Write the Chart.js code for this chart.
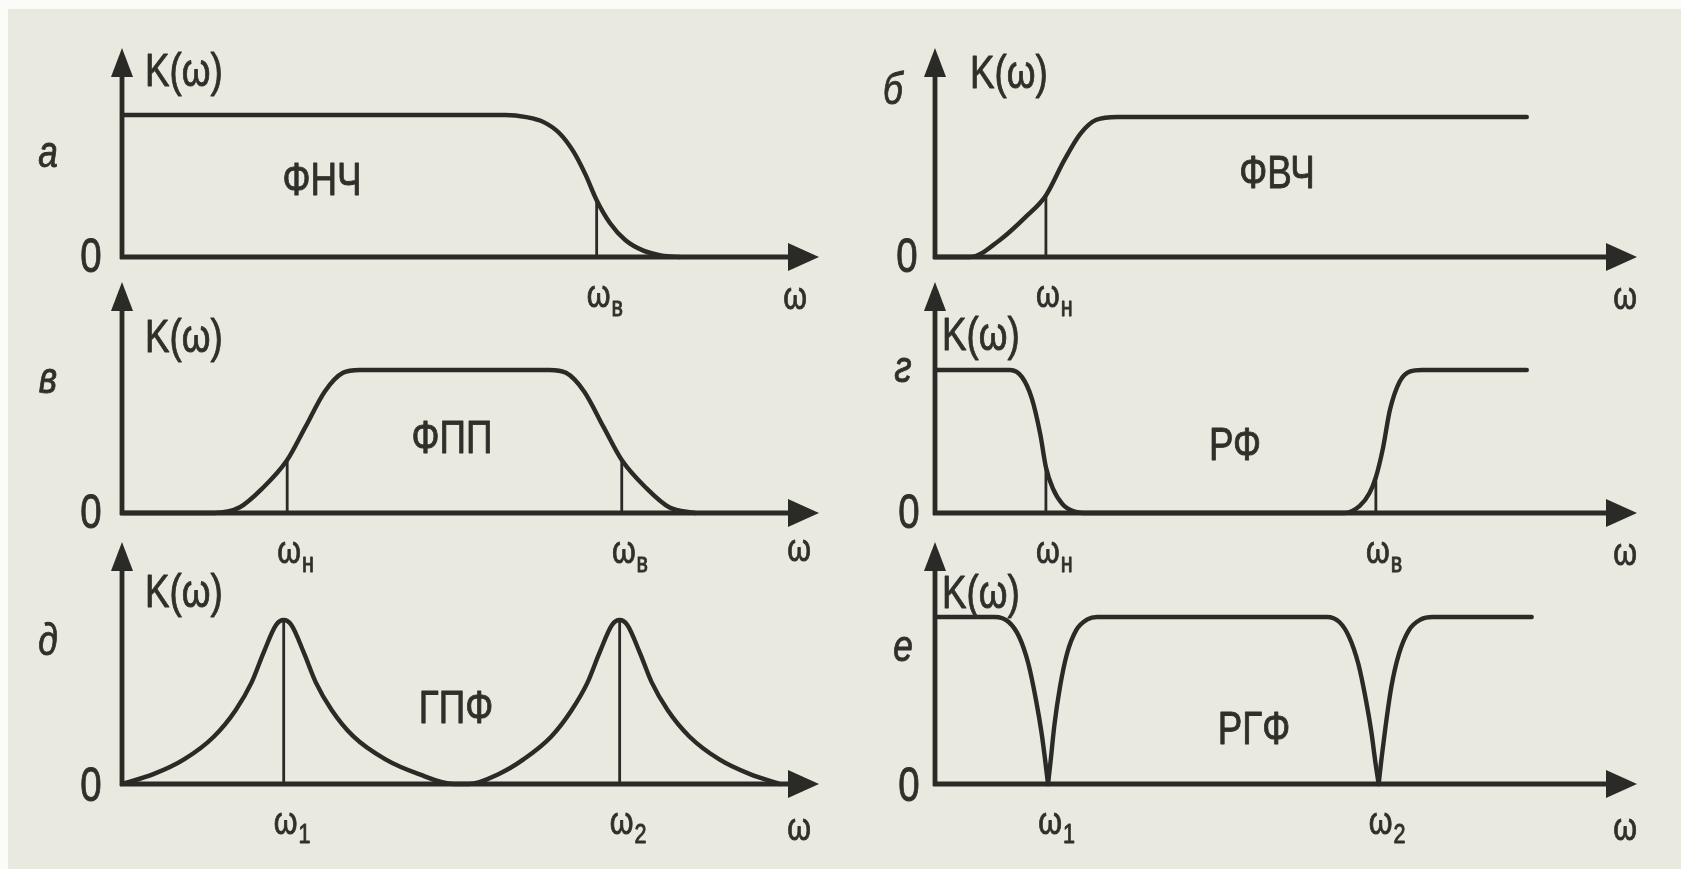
<!DOCTYPE html>
<html lang="ru">
<head>
<meta charset="utf-8">
<title>АЧХ фильтров</title>
<script src="https://cdn.jsdelivr.net/npm/chart.js@4.4.1/dist/chart.umd.min.js"></script>
<style>
  html, body { margin:0; padding:0; width:1681px; height:869px; overflow:hidden; background:#fbfbf7; }
  #sheet { position:absolute; left:8px; top:9px; right:0; bottom:0; background:#e9e9df; }
  canvas.panel { position:absolute; left:0; top:0; filter: blur(0.7px); }
</style>
</head>
<body>
<div id="sheet"></div>
<script>
// ω runs 0…100 along every frequency axis; K(ω) is normalised to the pass-band level (1).

// а — ФНЧ (low-pass)
const lpfOmega = [0, 55, 58, 60.5, 62.8, 64.8, 66.5, 68.1, 70.0, 72.2, 74.8, 77.5, 80];
const lpfK     = [1, 1, 0.985, 0.95, 0.87, 0.74, 0.58, 0.40, 0.24, 0.12, 0.045, 0.01, 0];
const lpfCutOmega = [68.1];
const lpfCutK     = [0.40];

// б — ФВЧ (high-pass)
const hpfOmega = [0, 5.0, 9.2, 13.0, 15.8, 18.4, 20.7, 23.0, 26.0, 84.3];
const hpfK     = [0, 0,   0.12, 0.29, 0.44, 0.69, 0.88, 0.98, 1,  1];
const hpfCutOmega = [15.8];
const hpfCutK     = [0.44];

// в — ФПП (band-pass)
const bpfOmega = [0, 13.2, 16.9, 20.1, 23.7, 26.3, 29.1, 31.7, 34.1, 61.3, 63.7, 66.3, 69.1, 71.7, 75.3, 78.5, 82.2];
const bpfK     = [0, 0,    0.04, 0.17, 0.37, 0.60, 0.85, 0.98, 1,    1,    0.98, 0.85, 0.60, 0.37, 0.17, 0.04, 0];
const bpfCutOmega = [23.7, 71.7];
const bpfCutK     = [0.37, 0.37];

// г — РФ (band-stop)
const bsfOmega = [0, 10.7, 12.4, 13.8, 15.0, 15.8, 16.8, 18.2, 19.9, 21.8, 58.3, 60.5, 61.9, 62.8, 63.8, 64.8, 66.2, 67.7, 69.4, 84.3];
const bsfK     = [1, 1,    0.95, 0.80, 0.55, 0.32, 0.17, 0.06, 0.01, 0,    0,    0.05, 0.14, 0.25, 0.45, 0.72, 0.92, 0.99, 1,    1];
const bsfCutOmega = [15.8, 62.8];
const bsfCutK     = [0.32, 0.25];

// д — ГПФ (comb pass)
const combOmega = [0, 4.5, 8.9, 13.2, 16.3, 18.6, 20.3, 22.1, 23.2, 24.3, 26.1, 27.8, 30.1, 33.2, 37.8, 42.6, 47.6,
                   49.8, 54.0, 57.6, 61.6, 64.5, 66.8, 68.5, 70.3, 71.4, 72.5, 74.3, 76.0, 78.3, 81.4, 85.7, 90.1, 94.4];
const combK     = [0, 0.06, 0.15, 0.29, 0.45, 0.62, 0.80, 0.97, 1, 0.97, 0.80, 0.62, 0.45, 0.29, 0.15, 0.06, 0,
                   0, 0.06, 0.15, 0.29, 0.45, 0.62, 0.80, 0.97, 1, 0.97, 0.80, 0.62, 0.45, 0.29, 0.15, 0.06, 0];
const combCutOmega = [23.2, 71.4];
const combCutK     = [1, 1];

// е — РГФ (comb stop), drawn as three branches so the notches stay sharp
const notchOmegaA = [0, 8.5, 10.5, 12.0, 13.3, 14.4, 15.2, 15.7, 16.1];
const notchKA     = [1, 1,   0.97, 0.88, 0.72, 0.50, 0.30, 0.14, 0];
const notchOmegaB = [16.1, 16.5, 17.0, 17.8, 18.8, 20.1, 21.7, 23.1, 55.8, 57.6, 59.0, 60.3, 61.4, 62.2, 62.7, 63.2];
const notchKB     = [0,    0.15, 0.35, 0.58, 0.78, 0.92, 0.985, 1,   1,    0.97, 0.88, 0.72, 0.50, 0.30, 0.14, 0];
const notchOmegaC = [63.2, 63.6, 64.2, 65.0, 66.1, 67.5, 69.2, 70.9, 85.0];
const notchKC     = [0,    0.15, 0.35, 0.58, 0.78, 0.92, 0.985, 1,   1];
const notchCutOmega = [16.1, 63.2];

// text
const panelLetters = ['а', 'б', 'в', 'г', 'д', 'е'];
const filterNames  = ['ФНЧ', 'ФВЧ', 'ФПП', 'РФ', 'ГПФ', 'РГФ'];
const cutSubscripts = [['в'], ['н'], ['н', 'в'], ['н', 'в'], ['1', '2'], ['1', '2']];
const yAxisTitle = 'K(ω)';
const xAxisTitle = 'ω';
const originLabel = '0';

// ---------------------------------------------------------------- layout
const W = 1681, H = 869;
const INK = '#2a2a26';
const TEXT = '#30302b';
const NARROW = 0.8;
const FONT = '"Liberation Sans", Arial, sans-serif';
const GRID = {
  originX: [122, 935],  tipX: [819, 1637],
  originY: [257, 513, 784], tipY: [48, 282, 542]
};

// per-panel label offsets (px from the axes origin / x-arrow tip)
const panels = [
  { col:0, row:0, kMax:1.472, curves:[[lpfOmega, lpfK]], cutW:lpfCutOmega, cutK:lpfCutK,
    kLab:[23,-184], letter:[-74,-102], zero:[-31,2], name:[200,-75], xLab:[-24,42] },
  { col:1, row:0, kMax:1.493, curves:[[hpfOmega, hpfK]], cutW:hpfCutOmega, cutK:hpfCutK,
    kLab:[35,-182], letter:[-42,-165], zero:[-28,2], name:[342,-82], xLab:[-12,42] },
  { col:0, row:1, kMax:1.615, curves:[[bpfOmega, bpfK]], cutW:bpfCutOmega, cutK:bpfCutK,
    kLab:[23,-174], letter:[-74,-132], zero:[-31,2], name:[330,-73], xLab:[-20,38] },
  { col:1, row:1, kMax:1.615, curves:[[bsfOmega, bsfK]], cutW:bsfCutOmega, cutK:bsfCutK,
    kLab:[7,-176], letter:[-32,-143], zero:[-26,2], name:[300,-66], xLab:[-12,42] },
  { col:0, row:2, kMax:1.476, curves:[[combOmega, combK]], cutW:combCutOmega, cutK:combCutK,
    kLab:[23,-190], letter:[-74,-141], zero:[-31,4], name:[334,-74], xLab:[-20,46] },
  { col:1, row:2, kMax:1.449, curves:[[notchOmegaA, notchKA], [notchOmegaB, notchKB], [notchOmegaC, notchKC]],
    cutW:notchCutOmega, cutK:null,
    kLab:[7,-189], letter:[-32,-135], zero:[-26,4], name:[319,-53], xLab:[-12,46] }
];

function toPoints(ws, ks) { return ws.map((w, i) => ({ x: w, y: ks[i] })); }

function drawText(ctx, str, x, y, size, opt = {}) {
  ctx.save();
  ctx.font = (opt.italic ? 'italic ' : '') + size + 'px ' + FONT;
  ctx.fillStyle = TEXT;
  ctx.strokeStyle = TEXT;
  ctx.lineWidth = 0.9;
  ctx.lineJoin = 'round';
  ctx.textBaseline = 'middle';
  ctx.textAlign = opt.align || 'center';
  ctx.translate(x, y);
  ctx.scale(NARROW, 1);
  ctx.fillText(str, 0, 0);
  ctx.strokeText(str, 0, 0);
  const w = ctx.measureText(str).width * NARROW;
  ctx.restore();
  return w;
}

function drawOmegaSub(ctx, cx, cy, sub) {
  const w = drawText(ctx, xAxisTitle, cx, cy, 38);
  drawText(ctx, sub, cx + w / 2 + 1, cy + 12, 27, { align: 'left' });
}

function framePlugin(p, idx) {
  return {
    id: 'frame' + idx,
    beforeDatasetsDraw(chart) {
      const ctx = chart.ctx, a = chart.chartArea;
      const ox = a.left, oy = a.bottom;
      ctx.save();
      ctx.strokeStyle = INK; ctx.fillStyle = INK; ctx.lineWidth = 4.8; ctx.lineCap = 'butt';
      // vertical axis with arrow
      ctx.beginPath(); ctx.moveTo(ox, oy + 2); ctx.lineTo(ox, a.top + 20); ctx.stroke();
      ctx.beginPath(); ctx.moveTo(ox, a.top); ctx.lineTo(ox - 11, a.top + 29); ctx.lineTo(ox + 11, a.top + 29); ctx.closePath(); ctx.fill();
      // frequency axis with arrow
      ctx.beginPath(); ctx.moveTo(ox - 2, oy); ctx.lineTo(a.right - 20, oy); ctx.stroke();
      ctx.beginPath(); ctx.moveTo(a.right, oy); ctx.lineTo(a.right - 31, oy - 14); ctx.lineTo(a.right - 31, oy + 14); ctx.closePath(); ctx.fill();
      ctx.restore();
    },
    afterDraw(chart) {
      const ctx = chart.ctx, a = chart.chartArea, xs = chart.scales.x;
      const ox = a.left, oy = a.bottom;
      drawText(ctx, yAxisTitle, ox + p.kLab[0], oy + p.kLab[1], 46, { align: 'left' });
      drawText(ctx, panelLetters[idx], ox + p.letter[0], oy + p.letter[1], 44, { italic: true });
      drawText(ctx, originLabel, ox + p.zero[0], oy + p.zero[1], 48);
      drawText(ctx, filterNames[idx], ox + p.name[0], oy + p.name[1], 46);
      drawText(ctx, xAxisTitle, a.right + p.xLab[0], oy + p.xLab[1], 38);
      p.cutW.forEach((w, i) => drawOmegaSub(ctx, xs.getPixelForValue(w) + 2, oy + 40, cutSubscripts[idx][i]));
    }
  };
}

panels.forEach((p, idx) => {
  const canvas = document.createElement('canvas');
  canvas.className = 'panel';
  canvas.width = W; canvas.height = H;
  canvas.style.width = W + 'px'; canvas.style.height = H + 'px';
  document.body.appendChild(canvas);

  const ox = GRID.originX[p.col], tx = GRID.tipX[p.col];
  const oy = GRID.originY[p.row], ty = GRID.tipY[p.row];

  const datasets = p.curves.map(([ws, ks]) => ({
    data: toPoints(ws, ks), borderColor: INK, borderWidth: 4.4, pointRadius: 0,
    fill: false, cubicInterpolationMode: 'monotone', clip: false, borderCapStyle: 'round'
  }));
  if (p.cutK) {
    p.cutW.forEach((w, i) => datasets.push({
      data: [{ x: w, y: 0 }, { x: w, y: p.cutK[i] }], borderColor: INK, borderWidth: 2.8,
      pointRadius: 0, tension: 0, fill: false, clip: false
    }));
  }

  new Chart(canvas, {
    type: 'line',
    data: { datasets },
    options: {
      responsive: false, animation: false, devicePixelRatio: 1,
      layout: { padding: { left: ox, top: ty, right: W - tx, bottom: H - oy } },
      scales: {
        x: { type: 'linear', min: 0, max: 100, display: false },
        y: { type: 'linear', min: 0, max: p.kMax, display: false }
      },
      plugins: { legend: { display: false }, tooltip: { enabled: false }, title: { display: false } },
      events: []
    },
    plugins: [framePlugin(p, idx)]
  });
});
</script>
</body>
</html>
